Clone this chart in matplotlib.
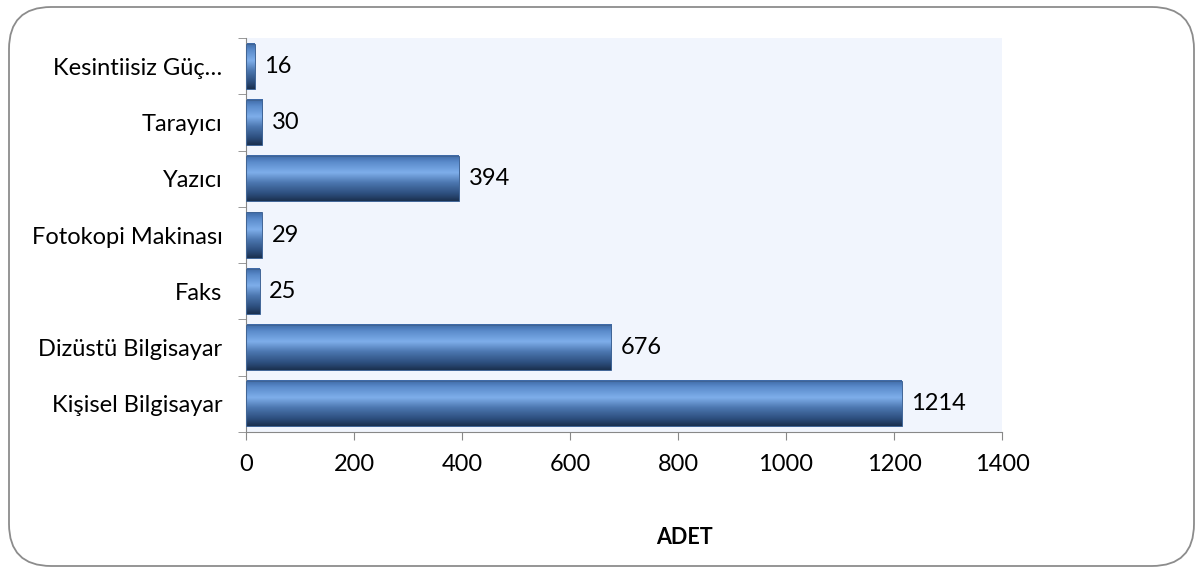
import numpy as np
import matplotlib.pyplot as plt
from matplotlib.patches import FancyBboxPatch
import matplotlib.colors as m

plt.rcParams['font.family'] = ['Lato', 'DejaVu Sans']

# data, bottom to top as drawn
categories = ['Kişisel Bilgisayar', 'Dizüstü Bilgisayar', 'Faks', 'Fotokopi Makinası',
              'Yazıcı', 'Tarayıcı', 'Kesintiisiz Güç…']
values = [1214, 676, 25, 29, 394, 30, 16]
xticks = [0, 200, 400, 600, 800, 1000, 1200, 1400]

# vertical gradient of the bars (top -> bottom)
bar_cmap = m.LinearSegmentedColormap.from_list(
    'bar3d', [(0.0, '#3e69a6'), (0.15, '#5b8ccc'), (0.38, '#7eaeea'),
              (0.6, '#4c77b0'), (0.85, '#2c4d7c'), (1.0, '#1b3150')])

fig = plt.figure(figsize=(12.03, 5.72), dpi=100)
ax = fig.add_axes([246 / 1203, 1 - 432 / 572, (1002 - 246) / 1203, (432 - 38) / 572])
ax.set_facecolor('#f1f5fd')

y = np.arange(len(categories))
bars = ax.barh(y, values, height=0.8, color='none', edgecolor='none', zorder=2)

grad = np.linspace(0, 1, 100).reshape(-1, 1)
for b in bars:
    x0, y0 = b.get_x(), b.get_y()
    w, h = b.get_width(), b.get_height()
    ax.imshow(grad, cmap=bar_cmap, aspect='auto', extent=[x0, x0 + w, y0, y0 + h],
              origin='upper', zorder=2, interpolation='bilinear')
    ax.add_patch(plt.Rectangle((x0, y0), w, h, fill=False, edgecolor='#3f6496', lw=0.7, zorder=3))

for yi, v in zip(y, values):
    ax.annotate(str(v), (v, yi), xytext=(7, 0), textcoords='offset points',
                va='center', ha='left', fontsize=17, color='black')

ax.set_xlim(0, 1400)
ax.set_ylim(-0.5, len(categories) - 0.5)
ax.set_xticks(xticks)
ax.set_xticklabels([str(t) for t in xticks], fontsize=17)
ax.set_yticks(y)
ax.set_yticklabels(categories, fontsize=17)
ax.set_yticks(np.arange(-0.5, len(categories), 1), minor=True)
ax.tick_params(axis='y', which='major', length=0, pad=17)
ax.tick_params(axis='y', which='minor', length=6, color='#888888', direction='out')
ax.tick_params(axis='x', length=6, color='#888888', pad=10)

for s in ['top', 'right']:
    ax.spines[s].set_visible(False)
ax.spines['left'].set_color('#888888')
ax.spines['bottom'].set_color('#888888')

fig.text(684 / 1203, 1 - 537 / 572, 'ADET', ha='center', va='center',
         fontsize=15.5, fontweight='bold')

border = FancyBboxPatch((9 / 1203, 6 / 572), 1185 / 1203, 559 / 572,
                        boxstyle='round,pad=0,rounding_size=0.035',
                        transform=fig.transFigure, fill=False,
                        edgecolor='#8c8c8c', lw=1.3, mutation_aspect=1203 / 572)
fig.patches.append(border)

fig.savefig('out.png', dpi=100)
